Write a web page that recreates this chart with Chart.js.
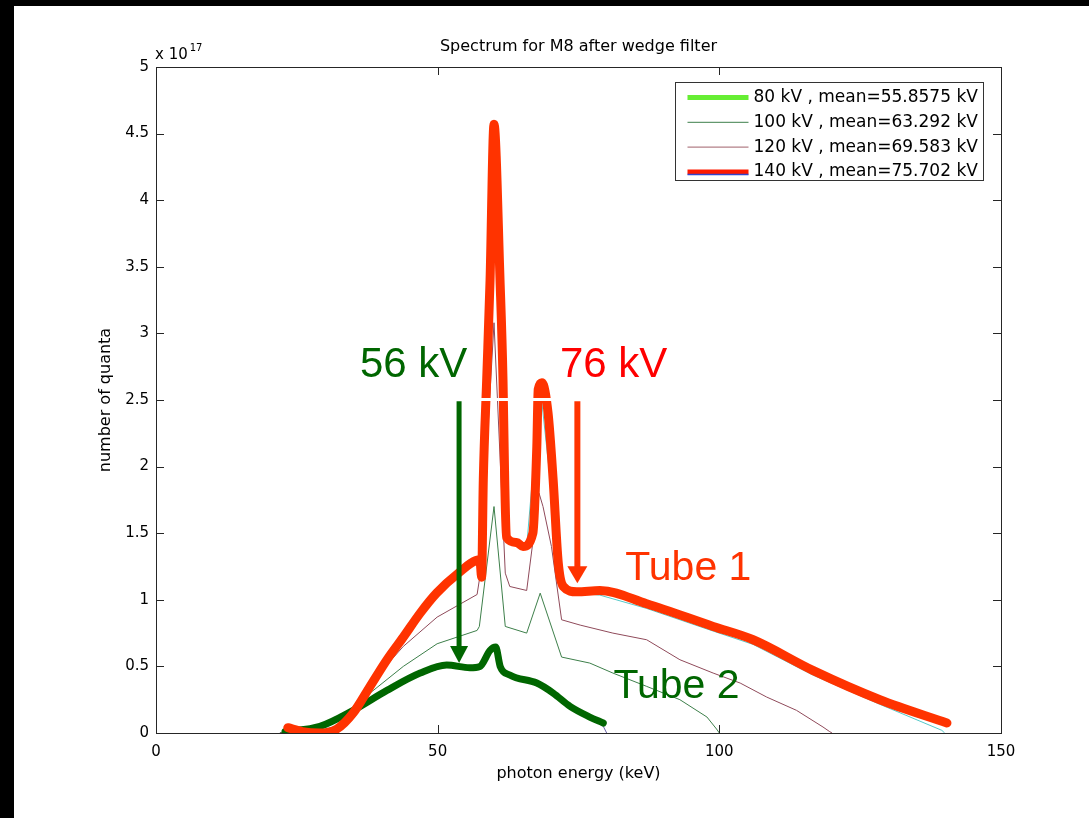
<!DOCTYPE html>
<html>
<head>
<meta charset="utf-8">
<title>Spectrum for M8 after wedge filter</title>
<script src="https://cdn.jsdelivr.net/npm/chart.js@4.4.1/dist/chart.umd.min.js"></script>
<style>
  html, body { margin: 0; padding: 0; background: #000; }
  body { width: 1089px; height: 818px; position: relative; overflow: hidden; }
  .frame { position: absolute; left: 14px; top: 6px; width: 1075px; height: 812px; background: #fff; }
</style>
</head>
<body>
<div class="frame"><canvas id="spectrum"></canvas></div>
<script>
// photon energy (keV) / number of quanta (x 10^17) for each tube voltage
const energy80 = [22, 29, 35, 41, 47, 51.6, 55.7, 57.5, 59.3, 60.3, 61.1, 62.8, 67.6, 70.5, 73.5, 77.0, 79.4, 80];
const quanta80 = [0, 0.04, 0.16, 0.31, 0.44, 0.50, 0.48, 0.49, 0.61, 0.63, 0.49, 0.43, 0.37, 0.29, 0.19, 0.11, 0.05, 0];

const energy100 = [22, 28, 33.7, 38, 43.9, 49.9, 57.0, 57.4, 60.0, 62.0, 65.8, 68.2, 72.0, 77.0, 81.1, 87.1, 93.0, 97.8, 99.5, 100];
const quanta100 = [0, 0.03, 0.11, 0.30, 0.50, 0.67, 0.77, 0.80, 1.70, 0.80, 0.75, 1.05, 0.57, 0.525, 0.45, 0.35, 0.25, 0.12, 0.03, 0];

const energy120 = [22, 28, 33.7, 38, 43.9, 49.9, 57.0, 57.4, 60.0, 62.0, 62.8, 65.8, 68.0, 68.7, 70.2, 72.0, 75.3, 81.1, 87.1, 93.0, 98.9, 103.7, 108.4, 113.7, 118.4, 119.6, 120];
const quanta120 = [0, 0.03, 0.12, 0.37, 0.65, 0.87, 1.04, 1.15, 3.08, 1.20, 1.10, 1.07, 1.80, 1.70, 1.40, 0.85, 0.81, 0.75, 0.70, 0.55, 0.45, 0.375, 0.27, 0.17, 0.045, 0.01, 0];

const energy140 = [22, 28, 33, 38, 44, 50, 57, 57.4, 60, 62, 65.8, 68.2, 72, 75, 78.8, 87.1, 98.9, 106, 116.6, 128.5, 139.5, 140];
const quanta140 = [0, 0.01, 0.06, 0.34, 0.72, 1.05, 1.28, 1.29, 4.50, 1.45, 1.40, 2.60, 1.10, 1.05, 1.035, 0.935, 0.765, 0.665, 0.435, 0.215, 0.02, 0];

// hand-traced outlines for the two tubes
const tube1Energy = [23.4, 26.0, 29.0, 32.1, 35.0, 38.0, 41.0, 43.9, 46.9, 49.8, 53.4, 57.5, 57.8, 58.1, 58.7, 59.3, 60.0, 61.07, 61.6, 61.9, 62.2, 64.0, 65.15, 66.9, 67.6, 67.85, 68.5, 69.6, 70.5, 71.4, 72.3, 74.7, 78.8, 87.1, 98.9, 106.0, 116.6, 128.5, 140.4];
const tube1Quanta = [0.04, 0.01, 0.0, 0.03, 0.15, 0.35, 0.55, 0.72, 0.90, 1.05, 1.19, 1.30, 1.17, 1.90, 2.65, 3.40, 4.57, 3.40, 2.65, 1.90, 1.47, 1.43, 1.40, 1.50, 2.15, 2.58, 2.63, 2.40, 1.90, 1.28, 1.10, 1.06, 1.07, 0.97, 0.80, 0.70, 0.47, 0.25, 0.075];

const tube2Energy = [22.9, 29.1, 35.0, 41.0, 46.9, 51.6, 55.7, 57.5, 59.3, 60.3, 61.1, 62.8, 67.6, 70.5, 73.5, 77.0, 79.4];
const tube2Quanta = [0.01, 0.05, 0.17, 0.32, 0.45, 0.51, 0.49, 0.50, 0.62, 0.645, 0.50, 0.435, 0.375, 0.30, 0.20, 0.12, 0.075];

const xTicks = [0, 50, 100, 150];
const yTicks = [0, 0.5, 1, 1.5, 2, 2.5, 3, 3.5, 4, 4.5, 5];

const legendLabels = ['80 kV , mean=55.8575 kV', '100 kV , mean=63.292 kV', '120 kV , mean=69.583 kV', '140 kV , mean=75.702 kV'];
const legendColors = ['#66ee33', '#3d7f4a', '#a0606a', '#ff1a00'];
const legendWidths = [5, 1, 1, 5];

const MATLAB_FONT = '"DejaVu Sans", sans-serif';
const SLIDE_FONT = '"Liberation Sans", Arial, sans-serif';

const toPoints = (xs, ys) => xs.map((x, i) => ({ x, y: ys[i] }));

function thinLine(label, xs, ys, color, order) {
  return {
    label, data: toPoints(xs, ys), borderColor: color, borderWidth: 1,
    pointRadius: 0, tension: 0, order
  };
}

function thickLine(label, xs, ys, color, width, order) {
  return {
    label, data: toPoints(xs, ys), borderColor: color, borderWidth: width,
    pointRadius: 0, cubicInterpolationMode: 'monotone',
    borderCapStyle: 'round', borderJoinStyle: 'round', order
  };
}

function arrow(ctx, x, yTop, yTip, color, width, head, half) {
  ctx.save();
  ctx.strokeStyle = color;
  ctx.fillStyle = color;
  ctx.lineWidth = width;
  ctx.beginPath();
  ctx.moveTo(x, yTop);
  ctx.lineTo(x, yTip - head + 2);
  ctx.stroke();
  ctx.beginPath();
  ctx.moveTo(x - half, yTip - head);
  ctx.lineTo(x + half, yTip - head);
  ctx.lineTo(x, yTip);
  ctx.closePath();
  ctx.fill();
  ctx.restore();
}

const axesBox = {
  id: 'axesBox',
  afterDatasetsDraw(chart) {
    const { ctx, chartArea: a, scales: { x, y } } = chart;
    ctx.save();
    ctx.strokeStyle = '#262626';
    ctx.lineWidth = 1;
    ctx.strokeRect(Math.round(a.left) + 0.5, Math.round(a.top) + 0.5, Math.round(a.width), Math.round(a.height));
    ctx.beginPath();
    const tick = 8;
    x.ticks.forEach((t) => {
      const px = Math.round(x.getPixelForValue(t.value)) + 0.5;
      ctx.moveTo(px, a.bottom); ctx.lineTo(px, a.bottom - tick);
      ctx.moveTo(px, a.top); ctx.lineTo(px, a.top + tick);
    });
    y.ticks.forEach((t) => {
      const py = Math.round(y.getPixelForValue(t.value)) + 0.5;
      ctx.moveTo(a.left, py); ctx.lineTo(a.left + tick, py);
      ctx.moveTo(a.right, py); ctx.lineTo(a.right - tick, py);
    });
    ctx.stroke();

    // exponent above the y axis
    ctx.fillStyle = '#000';
    ctx.textBaseline = 'alphabetic';
    ctx.textAlign = 'left';
    ctx.font = '15px ' + MATLAB_FONT;
    const base = 'x 10';
    ctx.fillText(base, a.left - 1, a.top - 8);
    const w = ctx.measureText(base).width;
    ctx.font = '10px ' + MATLAB_FONT;
    ctx.fillText('17', a.left + w + 1, a.top - 16);

    // legend box
    const bw = 308, bh = 98;
    const bx = Math.round(a.right - 18 - bw) + 0.5;
    const by = Math.round(a.top + 15) + 0.5;
    ctx.fillStyle = '#fff';
    ctx.fillRect(bx, by, bw, bh);
    ctx.strokeStyle = '#333';
    ctx.lineWidth = 1;
    ctx.strokeRect(bx, by, bw, bh);
    ctx.font = '17px ' + MATLAB_FONT;
    ctx.textBaseline = 'middle';
    legendLabels.forEach((label, i) => {
      const ry = by + 15 + i * 24.8;
      ctx.strokeStyle = legendColors[i];
      ctx.lineWidth = legendWidths[i];
      ctx.beginPath();
      ctx.moveTo(bx + 12, ry);
      ctx.lineTo(bx + 73, ry);
      ctx.stroke();
      if (i === 3) {
        ctx.strokeStyle = '#3344cc';
        ctx.lineWidth = 1.5;
        ctx.beginPath();
        ctx.moveTo(bx + 12, ry + 2.5);
        ctx.lineTo(bx + 73, ry + 2.5);
        ctx.stroke();
      }
      ctx.fillStyle = '#000';
      ctx.fillText(label, bx + 78, ry);
    });
    ctx.restore();
  },
  afterDraw(chart) {
    const { ctx, scales: { x, y } } = chart;
    ctx.save();
    // white strip left by the label boxes
    ctx.fillStyle = '#fff';
    ctx.fillRect(x.getPixelForValue(57.2), y.getPixelForValue(2.5) - 2, x.getPixelForValue(71) - x.getPixelForValue(57.2), 3);

    arrow(ctx, x.getPixelForValue(53.8), y.getPixelForValue(2.49), y.getPixelForValue(0.525), '#006600', 5, 17, 9);
    arrow(ctx, x.getPixelForValue(74.8), y.getPixelForValue(2.49), y.getPixelForValue(1.124), '#ff3300', 6, 17, 10);

    ctx.textAlign = 'left';
    ctx.textBaseline = 'alphabetic';
    ctx.font = '42px ' + SLIDE_FONT;
    ctx.fillStyle = '#006600';
    ctx.fillText('56 kV', x.getPixelForValue(36.2), y.getPixelForValue(2.67));
    ctx.fillStyle = '#ff0000';
    ctx.fillText('76 kV', x.getPixelForValue(71.7), y.getPixelForValue(2.67));
    ctx.font = '41px ' + SLIDE_FONT;
    ctx.fillStyle = '#ff3300';
    ctx.fillText('Tube 1', x.getPixelForValue(83.3), y.getPixelForValue(1.15));
    ctx.fillStyle = '#006600';
    ctx.fillText('Tube 2', x.getPixelForValue(81.2), y.getPixelForValue(0.263));
    ctx.restore();
  }
};

new Chart(document.getElementById('spectrum').getContext('2d'), {
  type: 'line',
  data: {
    datasets: [
      thickLine('Tube 1', tube1Energy, tube1Quanta, '#ff3300', 9, 0),
      thickLine('Tube 2', tube2Energy, tube2Quanta, '#006600', 7, 1),
      thinLine('80 kV', energy80, quanta80, '#6a62a8', 5),
      thinLine('100 kV', energy100, quanta100, '#3d7f4a', 3),
      thinLine('120 kV', energy120, quanta120, '#8f4a5a', 2),
      thinLine('140 kV', energy140, quanta140, '#55c8c8', 4)
    ]
  },
  options: {
    responsive: true,
    maintainAspectRatio: false,
    animation: false,
    events: [],
    layout: { padding: { left: 82, right: 88, top: 0, bottom: 35 } },
    plugins: {
      legend: { display: false },
      tooltip: { enabled: false },
      title: {
        display: true,
        text: 'Spectrum for M8 after wedge filter',
        fullSize: false,
        color: '#000',
        font: { family: MATLAB_FONT, size: 16, weight: 'normal' },
        padding: { top: 31.4, bottom: 10.4 }
      }
    },
    scales: {
      x: {
        type: 'linear',
        min: 0,
        max: 150,
        afterBuildTicks: (scale) => { scale.ticks = xTicks.map((v) => ({ value: v })); },
        afterFit: (scale) => { scale.height = 50; },
        grid: { display: false, drawTicks: false },
        border: { display: false },
        ticks: { color: '#000', padding: 10, font: { family: MATLAB_FONT, size: 15 }, callback: (v) => String(v) },
        title: { display: true, text: 'photon energy (keV)', color: '#000', padding: 0, font: { family: MATLAB_FONT, size: 16 } }
      },
      y: {
        type: 'linear',
        min: 0,
        max: 5,
        afterBuildTicks: (scale) => { scale.ticks = yTicks.map((v) => ({ value: v })); },
        afterFit: (scale) => { scale.width = 60; },
        grid: { display: false, drawTicks: false },
        border: { display: false },
        ticks: { color: '#000', padding: 7, font: { family: MATLAB_FONT, size: 15 }, callback: (v) => String(v) },
        title: { display: true, text: 'number of quanta', color: '#000', padding: 0, font: { family: MATLAB_FONT, size: 16 } }
      }
    }
  },
  plugins: [axesBox]
});
</script>
</body>
</html>
